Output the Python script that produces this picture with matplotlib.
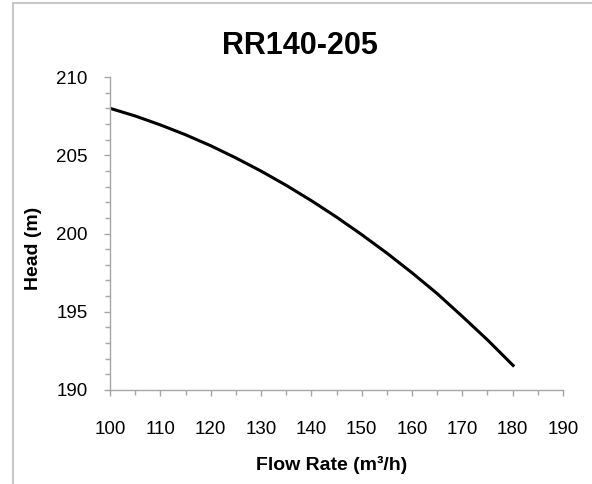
import matplotlib
matplotlib.use("Agg")
import matplotlib.pyplot as plt
from matplotlib.ticker import MultipleLocator
from matplotlib.patches import Rectangle

plt.rcParams['font.family'] = ['Liberation Sans', 'DejaVu Sans']

title = "RR140-205"
xlabel = "Flow Rate (m\u00b3/h)"
ylabel = "Head (m)"
flow = [100, 105, 110, 115, 120, 125, 130, 135, 140, 145, 150, 155, 160, 165, 170, 175, 180.3]
head = [208.0, 207.51, 206.94, 206.31, 205.61, 204.83, 203.99, 203.08, 202.10, 201.05,
        199.93, 198.75, 197.49, 196.16, 194.7, 193.2, 191.5]
xticks = [100, 110, 120, 130, 140, 150, 160, 170, 180, 190]
yticks = [190, 195, 200, 205, 210]

W, H = 592, 484
fig = plt.figure(figsize=(W / 100, H / 100), dpi=100)
fig.patch.set_facecolor('white')

# outer chart frame (partly cut off at right/bottom)
fig.patches.append(Rectangle((13 / W, -0.1), 1.2, 1.1 - 3 / H, transform=fig.transFigure,
                             fill=False, edgecolor='#C8C8C8', linewidth=1.5))

ax = fig.add_axes([110 / W, 1 - 390 / H, (563 - 110) / W, (390 - 77) / H])
ax.plot(flow, head, color='black', linewidth=2.2, solid_capstyle='butt')
ax.set_xlim(100, 190)
ax.set_ylim(190, 210)
ax.set_xticks(xticks)
ax.set_yticks(yticks)
ax.xaxis.set_minor_locator(MultipleLocator(5))
ax.yaxis.set_minor_locator(MultipleLocator(1))
for s in ['top', 'right']:
    ax.spines[s].set_visible(False)
for s in ['left', 'bottom']:
    ax.spines[s].set_color('#A6A6A6')
    ax.spines[s].set_linewidth(1.0)
ax.tick_params(axis='both', which='both', color='#A6A6A6', width=1.0, direction='out')
ax.tick_params(axis='x', which='major', length=4.5, pad=18, labelsize=13.5)
ax.tick_params(axis='x', which='minor', length=3.5)
ax.tick_params(axis='y', which='major', length=4.5, pad=11.5, labelsize=13.5)
ax.tick_params(axis='y', which='minor', length=3.5)

fig.text(300 / W, 1 - 46 / H, title, ha='center', va='center', fontsize=22, fontweight='bold')
fig.text(332 / W, 1 - 465 / H, xlabel, ha='center', va='center', fontsize=14, fontweight='bold')
fig.text(33 / W, 1 - 248 / H, ylabel, ha='center', va='center', fontsize=14, fontweight='bold', rotation=90)

fig.savefig("out.png", dpi=100, facecolor='white')
